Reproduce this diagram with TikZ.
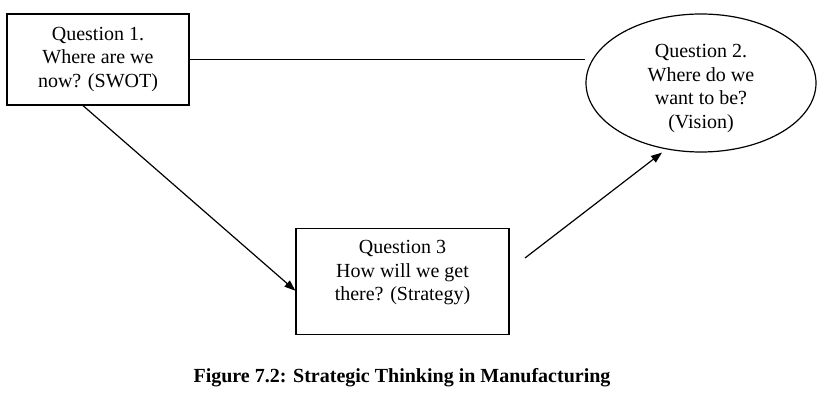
\documentclass[tikz,border=0pt]{standalone}
\usepackage{fontspec}
\setmainfont{Liberation Serif}
\usepackage{tikz}
\usetikzlibrary{shapes.geometric, arrows.meta, calc, positioning}

\begin{document}
\begin{tikzpicture}[
    x=1pt, y=-1pt,
    every node/.style={font=\fontsize{20}{23.5}\selectfont, align=center},
    qbox/.style={rectangle, draw, line width=1.2pt, inner sep=0pt},
    qoval/.style={ellipse, draw, line width=1.2pt, inner sep=0pt, minimum width=230pt, minimum height=138pt},
    link/.style={line width=1.2pt},
    arrow/.style={-{Triangle[length=11pt, width=8pt]}, line width=1.2pt},
    caption/.style={font=\fontsize{20}{24}\selectfont\bfseries}
]
\useasboundingbox (0,0) rectangle (820,403);

% Question boxes
\node[qbox, minimum width=182pt, minimum height=91pt]
   (q1) at (98,59.5) {Question 1.\\Where are we\\now? (SWOT)};
\node[qoval, text height=91pt, text depth=0pt]
   (q2) at (701,83) {Question 2.\\Where do we\\want to be?\\(Vision)};
\node[qbox, anchor=north, minimum width=213pt, inner ysep=12pt, text depth=22pt]
   (q3) at (402.5,228) {Question 3\\How will we get\\there? (Strategy)};

% Connectors
\draw[link] (q1.east) -- (q1.east -| q2.west);
\draw[arrow] ([xshift=-15pt]q1.south) -- ([yshift=-9pt]q3.west);
\coordinate (s2) at (525,258);
\draw[arrow] (s2) -- ([xshift=-39pt]q2.south);

% Caption
\node[caption] (cap) at (402,378) {Figure 7.2: Strategic Thinking in Manufacturing};
\end{tikzpicture}
\end{document}
